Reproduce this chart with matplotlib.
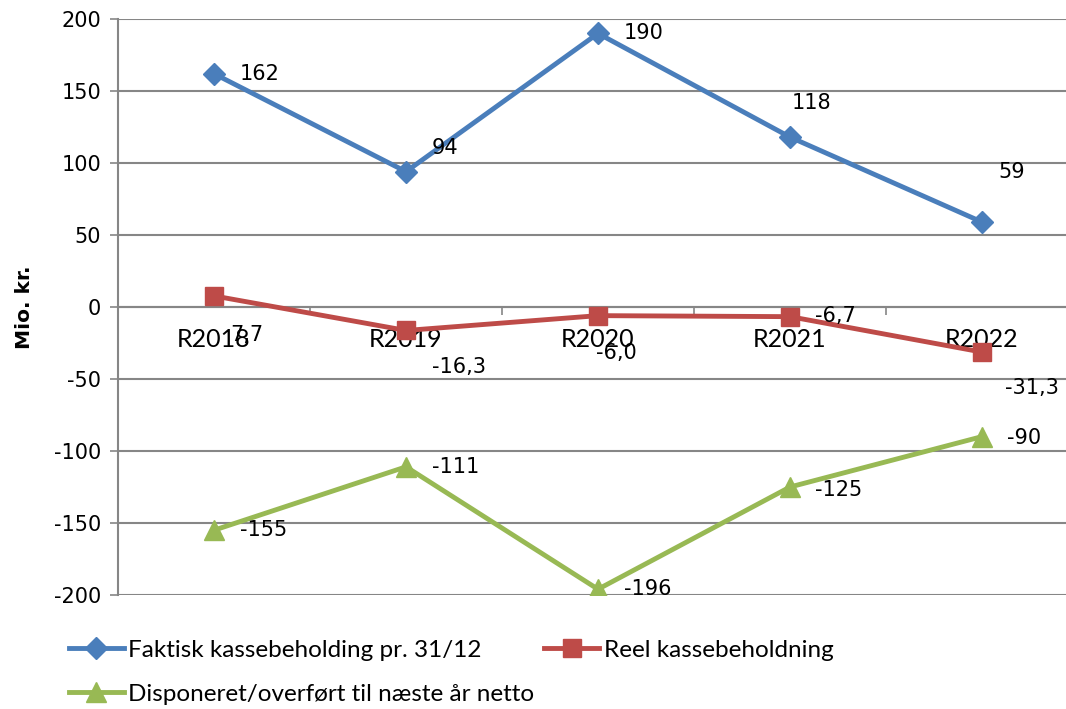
import matplotlib
matplotlib.use("Agg")
import matplotlib.pyplot as plt
import numpy as np
from matplotlib.ticker import FixedLocator

plt.rcParams['axes.unicode_minus'] = False

# chart data
years = ["R2018", "R2019", "R2020", "R2021", "R2022"]
faktisk = [162, 94, 190, 118, 59]
reel = [7.7, -16.3, -6.0, -6.7, -31.3]
disponeret = [-155, -111, -196, -125, -90]

faktisk_labels = ["162", "94", "190", "118", "59"]
reel_labels = ["7,7", "-16,3", "-6,0", "-6,7", "-31,3"]
disponeret_labels = ["-155", "-111", "-196", "-125", "-90"]

yticks = [-200, -150, -100, -50, 0, 50, 100, 150, 200]

# label offsets in pixels (left edge of text relative to point)
faktisk_off = [(26, 0), (26, 24), (26, 0), (2, 34), (16, 50)]
reel_off = [(16, -39), (26, -37), (-2, -37), (25, 1), (23, -36)]
disponeret_off = [(26, 0), (26, 0), (26, 0), (25, -3), (25, -1)]

narrow = ['Lato', 'DejaVu Sans']
grid_col = '#868686'

fig = plt.figure(figsize=(10.66, 7.09), dpi=100)
ax = fig.add_axes([118 / 1066, 114 / 709, 960 / 1066, 576 / 709])

x = np.arange(len(years))
series = [
    (faktisk, faktisk_labels, faktisk_off, '#4A7EBB', 'D', 11, "Faktisk kassebeholding pr. 31/12"),
    (reel, reel_labels, reel_off, '#BE4B48', 's', 13, "Reel kassebeholdning"),
    (disponeret, disponeret_labels, disponeret_off, '#98B954', '^', 15, "Disponeret/overført til næste år netto"),
]
handles = []
for vals, labs, offs, col, mk, ms, name in series:
    h, = ax.plot(x, vals, color=col, lw=3.5, marker=mk, markersize=ms,
                 markeredgecolor=col, label=name, zorder=3)
    handles.append(h)
    for xi, v, lab, off in zip(x, vals, labs, offs):
        ax.annotate(lab, (xi, v), xytext=off, textcoords='offset pixels',
                    ha='left', va='center', fontsize=15, color='black', zorder=4)

ax.set_xlim(-0.5, len(years) - 0.5)
ax.set_ylim(-200, 200)
ax.set_yticks(yticks)
ax.tick_params(axis='y', labelsize=15, length=6, width=1.2, color=grid_col, pad=6)
ax.yaxis.grid(True, color=grid_col, lw=1.5)
ax.set_axisbelow(True)

for s in ['top', 'right']:
    ax.spines[s].set_visible(False)
ax.spines['left'].set_color(grid_col)
ax.spines['left'].set_linewidth(1.5)
ax.spines['bottom'].set_position(('data', 0))
ax.spines['bottom'].set_color(grid_col)
ax.spines['bottom'].set_linewidth(1.5)

ax.set_xticks(x)
ax.set_xticklabels(years, fontfamily=narrow, fontsize=18)
ax.tick_params(axis='x', which='major', length=0, pad=15)
ax.xaxis.set_minor_locator(FixedLocator(np.arange(0.5, len(years) - 1, 1)))
ax.tick_params(axis='x', which='minor', length=6, width=1.2, color=grid_col, direction='out')

fig.text(25 / 1066, 1 - 307 / 709, "Mio. kr.", rotation=90, ha='center', va='center',
         fontsize=14.5, fontweight='bold', fontfamily='DejaVu Sans')

leg = fig.legend([handles[0], handles[2], handles[1]],
                 [handles[0].get_label(), handles[2].get_label(), handles[1].get_label()],
                 ncol=2, loc='upper left', bbox_to_anchor=(47 / 1066, 1 - 618 / 709),
                 frameon=False, prop={'family': narrow, 'size': 17.5},
                 handlelength=2.25, handletextpad=0.2, columnspacing=0.4, labelspacing=0.95)

fig.savefig("out.png", dpi=100)
